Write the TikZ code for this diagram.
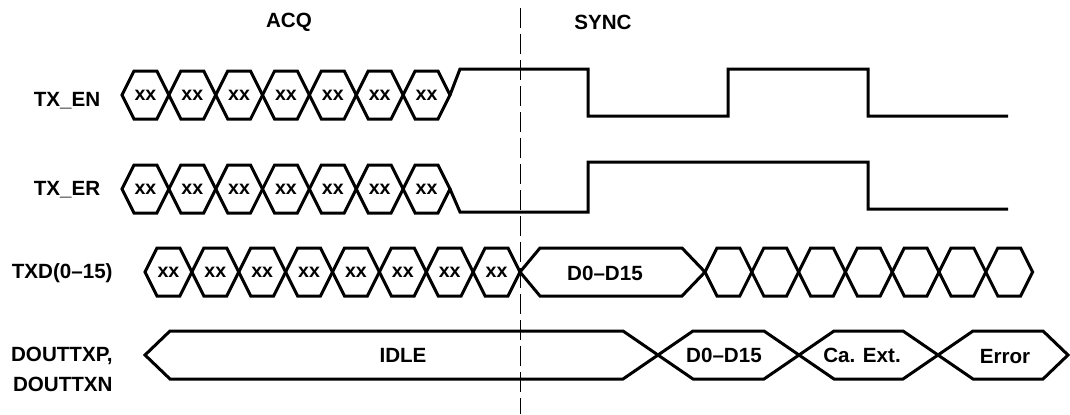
\documentclass[tikz,border=0pt]{standalone}
\usepackage{fontspec}
\setmainfont{Liberation Sans}
\newcommand{\hexcell}[5]{% left, right, middle, left slant, right slant
  \draw[sig] (#1,#3) -- ({#1+#4},{#3-24}) -- ({#2-#5},{#3-24}) -- (#2,#3)
    -- ({#2-#5},{#3+24}) -- ({#1+#4},{#3+24}) -- cycle;}
\begin{document}
\begin{tikzpicture}[x=0.5pt,y=-0.5pt,
    sig/.style={line width=1.5pt, line join=miter},
    lbl/.style={font=\fontsize{10.3}{15}\selectfont\bfseries, inner sep=0pt},
    cell/.style={font=\fontsize{9.8}{11}\selectfont\bfseries, inner sep=0pt}]
  \useasboundingbox (0,0) rectangle (1070,414);
  \def\w{46.85}

  % PHASES
  \node[lbl] (acq) at (289,22) {ACQ};
  \node[lbl] (sync) at (603,22) {SYNC};
  \coordinate (cuttop) at (520,8);
  \coordinate (cutbot) at (520,414);
  \draw[line width=0.5pt, dash pattern=on 10pt off 3pt] (cuttop) -- (cutbot);

  % SIGNAL NAMES
  \node[lbl] (txen) at (67,101) {TX\_EN};
  \node[lbl] (txer) at (67,190) {TX\_ER};
  \node[lbl, anchor=east] (txd) at (113,273) {TXD(0--15)};
  \node[lbl, anchor=east, align=right] (dout) at (113,369) {DOUTTXP,\\DOUTTXN};

  % TX_EN
  \foreach \i in {0,...,6} {
    \pgfmathsetmacro\xa{122+\i*\w}
    \hexcell{\xa}{\xa+\w}{95}{12}{12}
    \node[cell] (en\i) at (\xa+\w/2,95) {xx};
  }
  \draw[sig] (450,95) -- (460,69) -- (588,69) -- (588,116) -- (728,116)
    -- (728,69) -- (868,69) -- (868,116) -- (1008,116);

  % TX_ER
  \foreach \i in {0,...,6} {
    \pgfmathsetmacro\xa{122+\i*\w}
    \hexcell{\xa}{\xa+\w}{189}{12}{12}
    \node[cell] (er\i) at (\xa+\w/2,189) {xx};
  }
  \draw[sig] (450,189) -- (460,212) -- (588,212) -- (588,162) -- (868,162)
    -- (868,209) -- (1008,209);

  % TXD
  \foreach \i in {0,...,7} {
    \pgfmathsetmacro\xa{145+\i*46.875}
    \hexcell{\xa}{\xa+46.875}{272}{12}{12}
    \node[cell] (d\i) at (\xa+46.875/2,272) {xx};
  }
  \hexcell{520}{705}{272}{20}{23}
  \node[lbl] (dword) at (605,273) {D0--D15};
  \foreach \i in {0,...,6} {
    \pgfmathsetmacro\xa{705+\i*46.8}
    \hexcell{\xa}{\xa+46.8}{272}{12}{12}
  }

  % DOUTTXP, DOUTTXN
  \hexcell{145}{658}{355}{25}{35}
  \hexcell{658}{799}{355}{35}{35}
  \hexcell{799}{938}{355}{35}{35}
  \hexcell{938}{1068}{355}{35}{25}
  \node[lbl] (idle) at (403,355) {IDLE};
  \node[lbl] (oword) at (724,355) {D0--D15};
  \node[lbl] (caext) at (862,355) {Ca. Ext.};
  \node[lbl] (err) at (1005,357) {Error};
\end{tikzpicture}
\end{document}
